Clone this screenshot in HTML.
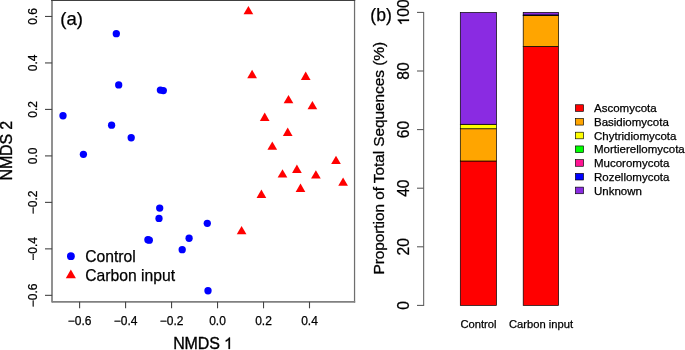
<!DOCTYPE html><html><head><meta charset="utf-8"><style>html,body{margin:0;padding:0;background:#fff;width:685px;height:350px;overflow:hidden}svg{display:block;will-change:transform}text{font-family:"Liberation Sans",sans-serif;fill:#000;stroke:#000;stroke-width:0.25px}</style></head><body>
<svg width="685" height="350" viewBox="0 0 685 350">
<rect width="685" height="350" fill="#fff"/>
<line x1="52.0" y1="0" x2="52.0" y2="302.6" stroke="#8c8c8c" stroke-width="1.9"/>
<line x1="354.55" y1="0" x2="354.55" y2="302.6" stroke="#6e6e6e" stroke-width="1.25"/>
<line x1="52.0" y1="301.9" x2="355.2" y2="301.9" stroke="#808080" stroke-width="1.6"/>
<line x1="51.1" y1="0.55" x2="355.2" y2="0.55" stroke="#404040" stroke-width="1.1"/>
<line x1="79.60" y1="301.8" x2="79.60" y2="308.3" stroke="#444" stroke-width="1.1"/>
<text x="79.60" y="324.5" font-size="12" text-anchor="middle">−0.6</text>
<line x1="125.58" y1="301.8" x2="125.58" y2="308.3" stroke="#444" stroke-width="1.1"/>
<text x="125.58" y="324.5" font-size="12" text-anchor="middle">−0.4</text>
<line x1="171.56" y1="301.8" x2="171.56" y2="308.3" stroke="#444" stroke-width="1.1"/>
<text x="171.56" y="324.5" font-size="12" text-anchor="middle">−0.2</text>
<line x1="217.54" y1="301.8" x2="217.54" y2="308.3" stroke="#444" stroke-width="1.1"/>
<text x="217.54" y="324.5" font-size="12" text-anchor="middle">0.0</text>
<line x1="263.52" y1="301.8" x2="263.52" y2="308.3" stroke="#444" stroke-width="1.1"/>
<text x="263.52" y="324.5" font-size="12" text-anchor="middle">0.2</text>
<line x1="309.50" y1="301.8" x2="309.50" y2="308.3" stroke="#444" stroke-width="1.1"/>
<text x="309.50" y="324.5" font-size="12" text-anchor="middle">0.4</text>
<line x1="45" y1="16.46" x2="52.1" y2="16.46" stroke="#444" stroke-width="1.1"/>
<text transform="translate(36.9 16.46) rotate(-90)" font-size="12" text-anchor="middle">0.6</text>
<line x1="45" y1="62.94" x2="52.1" y2="62.94" stroke="#444" stroke-width="1.1"/>
<text transform="translate(36.9 62.94) rotate(-90)" font-size="12" text-anchor="middle">0.4</text>
<line x1="45" y1="109.42" x2="52.1" y2="109.42" stroke="#444" stroke-width="1.1"/>
<text transform="translate(36.9 109.42) rotate(-90)" font-size="12" text-anchor="middle">0.2</text>
<line x1="45" y1="155.90" x2="52.1" y2="155.90" stroke="#444" stroke-width="1.1"/>
<text transform="translate(36.9 155.90) rotate(-90)" font-size="12" text-anchor="middle">0.0</text>
<line x1="45" y1="202.38" x2="52.1" y2="202.38" stroke="#444" stroke-width="1.1"/>
<text transform="translate(36.9 202.38) rotate(-90)" font-size="12" text-anchor="middle">−0.2</text>
<line x1="45" y1="248.86" x2="52.1" y2="248.86" stroke="#444" stroke-width="1.1"/>
<text transform="translate(36.9 248.86) rotate(-90)" font-size="12" text-anchor="middle">−0.4</text>
<line x1="45" y1="295.34" x2="52.1" y2="295.34" stroke="#444" stroke-width="1.1"/>
<text transform="translate(36.9 295.34) rotate(-90)" font-size="12" text-anchor="middle">−0.6</text>
<text x="173.2" y="348.9" font-size="16" letter-spacing="-0.15" style="stroke-width:0.35px">NMDS </text>
<path d="M763 0L583 0L583 1147C540 1106 483 1064 413 1023C343 982 280 951 224 930L224 1104C325 1151 413 1208 488 1275C563 1342 616 1407 647 1472L763 1472Z" transform="translate(224.00 348.90) scale(0.00781 -0.00781)" fill="#000" stroke="#000" stroke-width="38.4" />
<text transform="translate(11.7 150.7) rotate(-90)" font-size="16" letter-spacing="-0.15" style="stroke-width:0.35px" text-anchor="middle">NMDS 2</text>
<text x="60.3" y="25.1" font-size="18.5">(a)</text>
<circle cx="116.3" cy="33.65" r="3.65" fill="#00f"/>
<circle cx="118.7" cy="84.95" r="3.65" fill="#00f"/>
<circle cx="160.4" cy="90.05000000000001" r="3.65" fill="#00f"/>
<circle cx="163.3" cy="90.60000000000001" r="3.65" fill="#00f"/>
<circle cx="63" cy="115.75" r="3.65" fill="#00f"/>
<circle cx="111.6" cy="125.15" r="3.65" fill="#00f"/>
<circle cx="131.2" cy="137.75" r="3.65" fill="#00f"/>
<circle cx="83.4" cy="154.35" r="3.65" fill="#00f"/>
<circle cx="159.7" cy="208.05" r="3.65" fill="#00f"/>
<circle cx="159" cy="218.45000000000002" r="3.65" fill="#00f"/>
<circle cx="147.9" cy="239.65" r="3.65" fill="#00f"/>
<circle cx="149.3" cy="240.15" r="3.65" fill="#00f"/>
<circle cx="207.3" cy="223.35" r="3.65" fill="#00f"/>
<circle cx="189.1" cy="238.25" r="3.65" fill="#00f"/>
<circle cx="182.2" cy="249.65" r="3.65" fill="#00f"/>
<circle cx="208" cy="290.75" r="3.65" fill="#00f"/>
<polygon points="248.40,5.90 253.25,14.30 243.55,14.30" fill="#f00"/>
<polygon points="252.10,69.80 256.95,78.20 247.25,78.20" fill="#f00"/>
<polygon points="305.70,71.50 310.55,79.90 300.85,79.90" fill="#f00"/>
<polygon points="288.50,94.90 293.35,103.30 283.65,103.30" fill="#f00"/>
<polygon points="312.40,100.90 317.25,109.30 307.55,109.30" fill="#f00"/>
<polygon points="264.70,112.50 269.55,120.90 259.85,120.90" fill="#f00"/>
<polygon points="287.70,127.50 292.55,135.90 282.85,135.90" fill="#f00"/>
<polygon points="272.30,141.40 277.15,149.80 267.45,149.80" fill="#f00"/>
<polygon points="336.00,155.70 340.85,164.10 331.15,164.10" fill="#f00"/>
<polygon points="296.90,164.50 301.75,172.90 292.05,172.90" fill="#f00"/>
<polygon points="282.50,169.20 287.35,177.60 277.65,177.60" fill="#f00"/>
<polygon points="315.90,170.20 320.75,178.60 311.05,178.60" fill="#f00"/>
<polygon points="343.10,177.40 347.95,185.80 338.25,185.80" fill="#f00"/>
<polygon points="300.50,183.50 305.35,191.90 295.65,191.90" fill="#f00"/>
<polygon points="261.40,189.50 266.25,197.90 256.55,197.90" fill="#f00"/>
<polygon points="241.60,225.90 246.45,234.30 236.75,234.30" fill="#f00"/>
<circle cx="70.9" cy="256.2" r="3.9" fill="#00f"/>
<polygon points="70.85,269.47 75.90,278.22 65.80,278.22" fill="#f00"/>
<text x="85.2" y="261.5" font-size="15.7">Control</text>
<text x="85.2" y="280.8" font-size="15.7">Carbon input</text>
<line x1="423.65" y1="305.9" x2="423.65" y2="11.90" stroke="#666" stroke-width="1.1"/>
<line x1="417.0" y1="305.40" x2="423.65" y2="305.40" stroke="#555" stroke-width="1.05"/>
<text transform="translate(409 305.40) rotate(-90)" font-size="15.6" text-anchor="middle">0</text>
<line x1="417.0" y1="246.80" x2="423.65" y2="246.80" stroke="#555" stroke-width="1.05"/>
<text transform="translate(409 246.80) rotate(-90)" font-size="15.6" text-anchor="middle">20</text>
<line x1="417.0" y1="188.20" x2="423.65" y2="188.20" stroke="#555" stroke-width="1.05"/>
<text transform="translate(409 188.20) rotate(-90)" font-size="15.6" text-anchor="middle">40</text>
<line x1="417.0" y1="129.60" x2="423.65" y2="129.60" stroke="#555" stroke-width="1.05"/>
<text transform="translate(409 129.60) rotate(-90)" font-size="15.6" text-anchor="middle">60</text>
<line x1="417.0" y1="71.00" x2="423.65" y2="71.00" stroke="#555" stroke-width="1.05"/>
<text transform="translate(409 71.00) rotate(-90)" font-size="15.6" text-anchor="middle">80</text>
<line x1="417.0" y1="12.40" x2="423.65" y2="12.40" stroke="#555" stroke-width="1.05"/>
<g transform="translate(409 12.40) rotate(-90)"><path d="M763 0L583 0L583 1147C540 1106 483 1064 413 1023C343 982 280 951 224 930L224 1104C325 1151 413 1208 488 1275C563 1342 616 1407 647 1472L763 1472Z" transform="translate(-13.01 0.00) scale(0.00762 -0.00762)" fill="#000" stroke="#000" stroke-width="39.4" /><text x="-4.34" y="0" font-size="15.6">00</text></g>
<text transform="translate(384.2 158.3) rotate(-90)" font-size="15.5" letter-spacing="-0.1" style="stroke-width:0.3px" text-anchor="middle">Proportion of Total Sequences (%)</text>
<text x="370.3" y="21.4" font-size="17.6">(b)</text>
<rect x="460.3" y="161.00" width="36.20" height="144.40" fill="#f00" stroke="#000" stroke-width="0.7"/>
<rect x="460.3" y="128.75" width="36.20" height="32.25" fill="#ffa500" stroke="#000" stroke-width="0.7"/>
<rect x="460.3" y="124.30" width="36.20" height="4.45" fill="#ff0" stroke="#000" stroke-width="0.7"/>
<rect x="460.3" y="12.50" width="36.20" height="111.80" fill="#8a2be2" stroke="#000" stroke-width="0.7"/>
<rect x="523.2" y="46.40" width="35.40" height="259.00" fill="#f00" stroke="#000" stroke-width="0.7"/>
<rect x="523.2" y="15.55" width="35.40" height="30.85" fill="#ffa500" stroke="#000" stroke-width="0.7"/>
<rect x="523.2" y="12.40" width="35.40" height="2.65" fill="#8a2be2" stroke="#000" stroke-width="0.7"/>
<line x1="522.8000000000001" y1="15.3" x2="559.0" y2="15.3" stroke="#000" stroke-width="1.1"/>
<text x="478.5" y="327.9" font-size="11.2" text-anchor="middle">Control</text>
<text x="541" y="327.9" font-size="11.2" text-anchor="middle">Carbon input</text>
<rect x="575.4" y="104.75" width="8.1" height="6.6" fill="#f00" stroke="#000" stroke-width="0.65"/>
<text x="594.0" y="112.20" font-size="11.5">Ascomycota</text>
<rect x="575.4" y="118.48" width="8.1" height="6.6" fill="#ffa500" stroke="#000" stroke-width="0.65"/>
<text x="594.0" y="125.93" font-size="11.5">Basidiomycota</text>
<rect x="575.4" y="132.21" width="8.1" height="6.6" fill="#ff0" stroke="#000" stroke-width="0.65"/>
<text x="594.0" y="139.66" font-size="11.5">Chytridiomycota</text>
<rect x="575.4" y="145.94" width="8.1" height="6.6" fill="#0f0" stroke="#000" stroke-width="0.65"/>
<text x="594.0" y="153.39" font-size="11.5">Mortierellomycota</text>
<rect x="575.4" y="159.67" width="8.1" height="6.6" fill="#ff1493" stroke="#000" stroke-width="0.65"/>
<text x="594.0" y="167.12" font-size="11.5">Mucoromycota</text>
<rect x="575.4" y="173.40" width="8.1" height="6.6" fill="#00f" stroke="#000" stroke-width="0.65"/>
<text x="594.0" y="180.85" font-size="11.5">Rozellomycota</text>
<rect x="575.4" y="187.13" width="8.1" height="6.6" fill="#8a2be2" stroke="#000" stroke-width="0.65"/>
<text x="594.0" y="194.58" font-size="11.5">Unknown</text>
</svg></body></html>
